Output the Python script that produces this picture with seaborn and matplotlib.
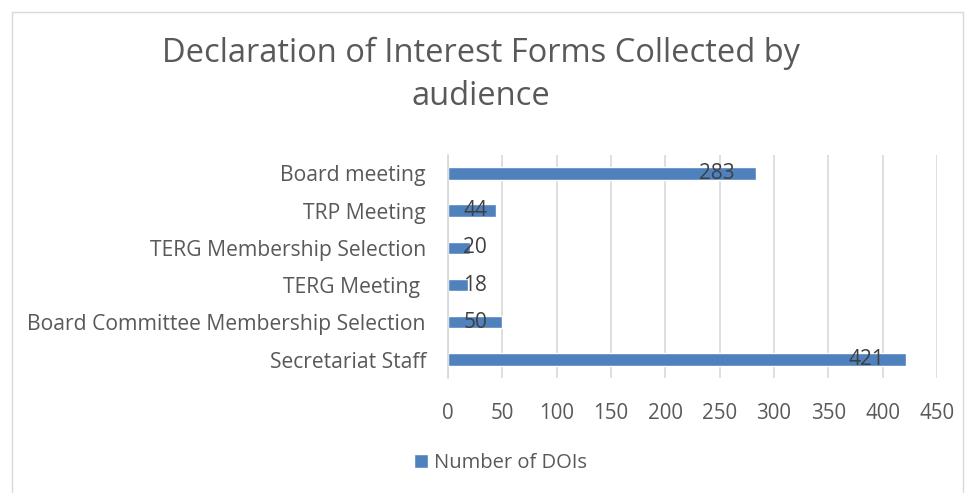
import matplotlib.pyplot as plt
import seaborn as sns
import pandas as pd
from matplotlib.patches import Rectangle

# chart data
audiences = ['Board meeting', 'TRP Meeting', 'TERG Membership Selection',
             'TERG Meeting ', 'Board Committee Membership Selection', 'Secretariat Staff']
dois = [283, 44, 20, 18, 50, 421]
x_ticks = [0, 50, 100, 150, 200, 250, 300, 350, 400, 450]

df = pd.DataFrame({'Audience': audiences, 'Number of DOIs': dois})

sns.set_theme(style='white')
plt.rcParams['font.family'] = ['Open Sans', 'DejaVu Sans']
txt = '#595959'

fig = plt.figure(figsize=(9.7, 4.93), dpi=100)
ax = fig.add_axes([0.462, 0.233, 0.504, 0.453])

sns.barplot(data=df, x='Number of DOIs', y='Audience', orient='h', color='#4F81BD',
            width=0.33, saturation=1, label='Number of DOIs', ax=ax)

# data labels (Excel-style, near bar end)
for i, v in enumerate(dois):
    ax.text(max(v - 36, 25), i, str(v), ha='center', va='center',
            fontsize=15, color='#404040')

ax.set_xlim(0, 450)
ax.set_xticks(x_ticks)
ax.grid(axis='x', color='#D9D9D9', linewidth=1.2)
ax.set_axisbelow(True)
for s in ['top', 'right', 'bottom']:
    ax.spines[s].set_visible(False)
ax.spines['left'].set_color('#D9D9D9')
ax.tick_params(axis='x', length=0, pad=18, labelsize=14.8, labelcolor=txt)
ax.tick_params(axis='y', length=0, pad=16, labelsize=15.2, labelcolor=txt)
ax.set_xlabel('')
ax.set_ylabel('')

fig.text(0.496, 0.848, 'Declaration of Interest Forms Collected by\naudience',
         ha='center', va='center', fontsize=23.5, color=txt, linespacing=1.4)

ax.legend(loc='center', bbox_to_anchor=(0.516, 0.061), bbox_transform=fig.transFigure,
          frameon=False, fontsize=14.5, handlelength=0.7, handleheight=0.7,
          handletextpad=0.3, labelcolor=txt)

# chart area border
fig.patches.append(Rectangle((0.012, -0.05), 0.981, 1.026, transform=fig.transFigure,
                             fill=False, edgecolor='#D9D9D9', linewidth=1))

plt.savefig('out.png', dpi=100)
